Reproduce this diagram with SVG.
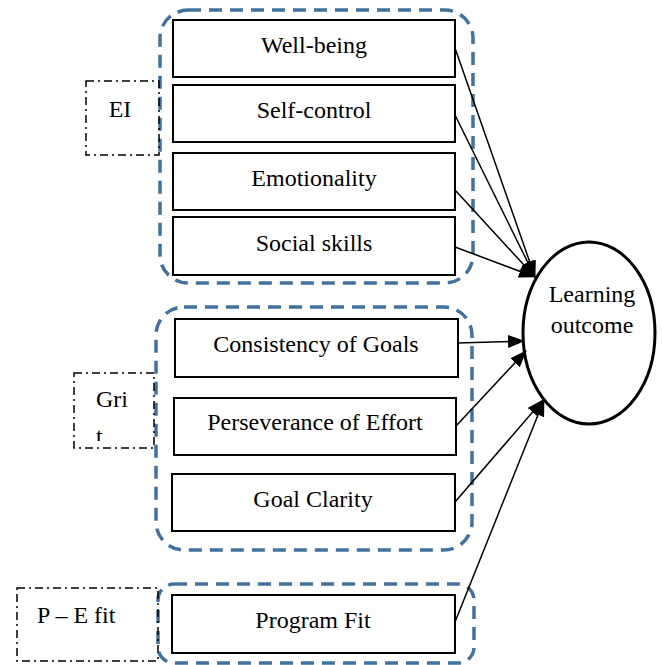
<svg xmlns="http://www.w3.org/2000/svg" width="662" height="665" viewBox="0 0 662 665">
<style>
text{font-family:"Liberation Serif","Times New Roman",serif;font-size:24px;fill:#000}
.c{text-anchor:middle}
.grp{fill:none;stroke:#41719C;stroke-width:3.5;stroke-dasharray:13 8}
.lbl{fill:none;stroke:#000;stroke-width:1.5;stroke-dasharray:8 4 2 4}
.box{fill:#fff;stroke:#000;stroke-width:2}
.arr{fill:none;stroke:#000;stroke-width:1.5;marker-end:url(#ah)}
</style>
<defs>
<marker id="ah" markerUnits="userSpaceOnUse" markerWidth="18" markerHeight="13" refX="16" refY="6.5" orient="auto">
<path d="M0,0 L17,6.5 L0,13 Z" fill="#000"/>
</marker>
<clipPath id="gclip"><rect x="74" y="373" width="80" height="68"/></clipPath>
</defs>
<rect width="662" height="665" fill="#fff"/>
<g id="group-ei">
<rect class="grp" x="160" y="10" width="313" height="273" rx="28"/>
</g>
<g id="group-grit">
<rect class="grp" x="156" y="307" width="316" height="243" rx="28"/>
</g>
<g id="group-pe">
<rect class="grp" x="158" y="584" width="316" height="79" rx="16"/>
</g>
<g id="label-ei">
<rect class="lbl" x="86" y="81" width="73" height="74"/>
<text x="120" y="117" class="c">EI</text>
</g>
<g id="label-grit">
<rect class="lbl" x="74" y="373" width="80" height="75"/>
<text x="96" y="407">Gri</text>
<text x="96" y="444" clip-path="url(#gclip)">t</text>
</g>
<g id="label-pe">
<rect class="lbl" x="17" y="588" width="141" height="73"/>
<text x="37" y="623">P – E fit</text>
</g>
<g id="well-being"><rect class="box" x="173" y="20" width="282" height="57"/><text x="314" y="53" class="c">Well-being</text></g>
<g id="self-control"><rect class="box" x="173" y="85" width="282" height="57"/><text x="314" y="118" class="c">Self-control</text></g>
<g id="emotionality"><rect class="box" x="173" y="153" width="282" height="57"/><text x="314" y="186" class="c">Emotionality</text></g>
<g id="social-skills"><rect class="box" x="173" y="217" width="282" height="58"/><text x="314" y="251" class="c">Social skills</text></g>
<g id="consistency"><rect class="box" x="175" y="319" width="283" height="58"/><text x="316" y="352" class="c">Consistency of Goals</text></g>
<g id="perseverance"><rect class="box" x="174" y="398" width="282" height="57"/><text x="315" y="430" class="c">Perseverance of Effort</text></g>
<g id="goal-clarity"><rect class="box" x="172" y="474" width="283" height="57"/><text x="313" y="507" class="c">Goal Clarity</text></g>
<g id="program-fit"><rect class="box" x="172" y="595" width="283" height="58"/><text x="313" y="628" class="c">Program Fit</text></g>
<g id="learning-outcome">
<ellipse cx="589" cy="333" rx="66" ry="91" fill="#fff" stroke="#000" stroke-width="3"/>
<text x="592" y="302" class="c">Learning</text>
<text x="592" y="333" class="c">outcome</text>
</g>
<g id="connectors">
<line class="arr" x1="455" y1="48" x2="535" y2="277"/>
<line class="arr" x1="455" y1="115" x2="535" y2="277"/>
<line class="arr" x1="455" y1="190" x2="535" y2="277"/>
<line class="arr" x1="455" y1="247" x2="535" y2="277"/>
<line class="arr" x1="457" y1="343" x2="524" y2="341"/>
<line class="arr" x1="456" y1="426" x2="526" y2="351"/>
<line class="arr" x1="455" y1="502" x2="543" y2="400"/>
<line class="arr" x1="455" y1="622" x2="544" y2="400"/>
</g>
</svg>
